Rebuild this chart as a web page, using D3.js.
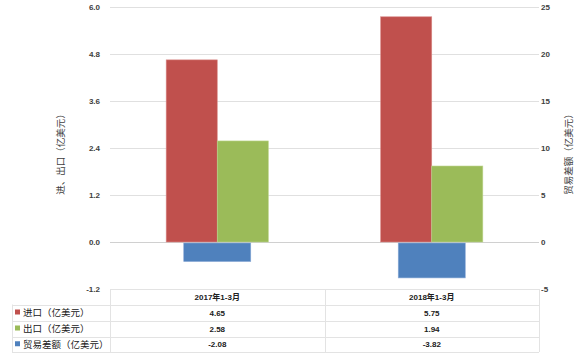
<!DOCTYPE html>
<html><head><meta charset="utf-8">
<script src="https://cdn.jsdelivr.net/npm/d3@7/dist/d3.min.js"></script>
<style>body{margin:0;background:#fff}svg{display:block}text{font-family:"Liberation Sans","Noto Sans CJK SC",sans-serif}</style>
</head><body><svg id="c" width="585" height="353"></svg>
<script>
const categories = ["2017年1-3月", "2018年1-3月"];
const seriesNames = ["进口（亿美元）", "出口（亿美元）", "贸易差额（亿美元）"];
const imports = [4.65, 5.75];
const exports = [2.58, 1.94];
const balance = [-2.08, -3.82];
const leftTicks = [-1.2, 0.0, 1.2, 2.4, 3.6, 4.8, 6.0];
const rightTicks = [-5, 0, 5, 10, 15, 20, 25];
const colors = ["#C0504D", "#9BBB59", "#4F81BD"];

const svg = d3.select("#c");
const L = 110, R = 539, T = 7, B = 289;
const yL = d3.scaleLinear().domain([-1.2, 6]).range([B, T]);
const yR = d3.scaleLinear().domain([-5, 25]).range([B, T]);
const x = d3.scaleBand().domain(categories).range([L, R]);
const bw = x.bandwidth();
const gap = 2.2;
const w2 = bw / (2 + gap), w1 = bw / (1 + gap);

// gridlines
svg.append("g").selectAll("line").data(leftTicks).join("line")
  .attr("x1", L).attr("x2", R).attr("y1", d => Math.round(yL(d)) + 0.5).attr("y2", d => Math.round(yL(d)) + 0.5)
  .attr("stroke", d => d === 0 ? "#d0d0d0" : "#e0e0e0").attr("stroke-width", 1);

// axis labels
svg.append("g").selectAll("text").data(leftTicks).join("text")
  .attr("x", 100).attr("y", d => yL(d) + 3).attr("text-anchor", "end")
  .attr("font-size", 8).attr("font-weight", "bold").attr("fill", "#404040").text(d => d.toFixed(1));
svg.append("g").selectAll("text").data(rightTicks).join("text")
  .attr("x", 541).attr("y", d => yR(d) + 3).attr("text-anchor", "start")
  .attr("font-size", 8).attr("font-weight", "bold").attr("fill", "#404040").text(d => String(d));

// titles
svg.append("text").attr("transform", `translate(64,152) rotate(-90)`)
  .attr("text-anchor", "middle").attr("font-size", 9.5).attr("fill", "#404040")
  .attr("font-family", "Noto Sans CJK SC").text("进、出口（亿美元）");
svg.append("text").attr("transform", `translate(572,152) rotate(-90)`)
  .attr("text-anchor", "middle").attr("font-size", 9.5).attr("fill", "#404040")
  .attr("font-family", "Noto Sans CJK SC").text("贸易差额（亿美元）");

// bars
const g = svg.append("g");
categories.forEach((c, i) => {
  const cx = x(c) + bw / 2;
  g.append("rect").attr("x", cx - w2).attr("width", w2)
    .attr("y", yL(imports[i])).attr("height", yL(0) - yL(imports[i]))
    .attr("fill", colors[0]).attr("stroke", "#d98a88").attr("stroke-width", 0.6);
  g.append("rect").attr("x", cx).attr("width", w2)
    .attr("y", yL(exports[i])).attr("height", yL(0) - yL(exports[i]))
    .attr("fill", colors[1]).attr("stroke", "#bcd48c").attr("stroke-width", 0.6);
  g.append("rect").attr("x", cx - w1 / 2).attr("width", w1)
    .attr("y", yR(0) + 1).attr("height", yR(balance[i]) - yR(0) - 1)
    .attr("fill", colors[2]).attr("stroke", "#8aaad6").attr("stroke-width", 0.6);
});

// data table
const rowY = [289, 304.5, 320.5, 336.5, 352];
const tl = 12;
const tg = svg.append("g").attr("stroke", "#e3e3e3").attr("stroke-width", 1);
tg.append("line").attr("x1", L).attr("x2", R).attr("y1", rowY[0] + 0.5).attr("y2", rowY[0] + 0.5);
rowY.slice(1).forEach(y => tg.append("line").attr("x1", tl).attr("x2", R).attr("y1", Math.round(y) + 0.5).attr("y2", Math.round(y) + 0.5));
tg.append("line").attr("x1", tl + 0.5).attr("x2", tl + 0.5).attr("y1", rowY[1]).attr("y2", rowY[4]);
[L, x(categories[1]), R].forEach(xx => tg.append("line").attr("x1", Math.round(xx) + 0.5).attr("x2", Math.round(xx) + 0.5).attr("y1", rowY[0]).attr("y2", rowY[4]));

categories.forEach((c, i) => {
  const cx = x(c) + bw / 2;
  svg.append("text").attr("x", cx).attr("y", 299.5).attr("text-anchor", "middle")
    .attr("font-size", 8).attr("font-weight", "bold").attr("fill", "#202020").text(c);
  [imports[i], exports[i], balance[i]].forEach((v, j) => {
    svg.append("text").attr("x", cx).attr("y", (rowY[j + 1] + rowY[j + 2]) / 2 + 3).attr("text-anchor", "middle")
      .attr("font-size", 8).attr("font-weight", "bold").attr("fill", "#202020").text(v.toFixed(2));
  });
});
seriesNames.forEach((n, j) => {
  const cy = (rowY[j + 1] + rowY[j + 2]) / 2;
  svg.append("rect").attr("x", 15).attr("y", cy - 3).attr("width", 5).attr("height", 5).attr("fill", colors[j]);
  svg.append("text").attr("x", 23).attr("y", cy + 3.5).attr("font-size", 9.5).attr("fill", "#202020")
    .attr("font-family", "Noto Sans CJK SC").text(n);
});
</script></body></html>
